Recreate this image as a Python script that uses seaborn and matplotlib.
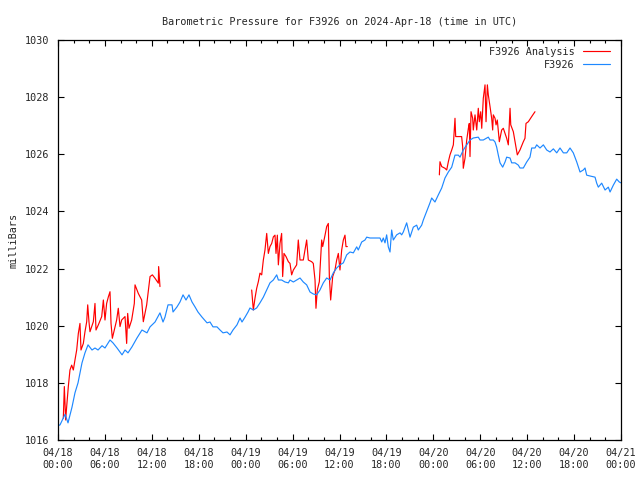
import pandas as pd
import seaborn as sns
import matplotlib.pyplot as plt
import matplotlib.dates as mdates

# Station pressure (blue), hours after 2024-04-18 00:00 UTC
obs_hours = [0.0, 0.26, 0.9, 1.28, 1.79, 2.17, 2.56, 3.07, 3.45, 3.84, 4.35, 4.73,
             5.12, 5.63, 6.01, 6.65, 7.03, 7.55, 8.19, 8.57, 8.95, 9.46, 10.1, 10.74,
             11.38, 11.77, 12.41, 13.04, 13.43, 13.68, 14.07, 14.58, 14.71, 15.22, 15.6,
             15.99, 16.37, 16.75, 17.14, 17.52, 17.9, 18.42, 19.06, 19.44, 19.82, 20.33,
             20.72, 21.1, 21.61, 22.0, 22.38, 22.89, 23.28, 23.53, 23.92, 24.3, 24.55,
             24.98, 25.4, 25.83, 26.26, 26.69, 27.11, 27.54, 27.97, 28.18, 28.6, 29.03,
             29.46, 29.67, 30.1, 30.52, 30.95, 31.37, 31.8, 32.23, 32.65, 33.08, 33.5,
             33.93, 34.36, 34.79, 35.21, 35.64, 36.06, 36.49, 36.92, 37.34, 37.77, 38.2,
             38.4, 38.84, 39.26, 39.48, 39.9, 40.76, 41.18, 41.4, 41.6, 41.82, 42.03,
             42.24, 42.46, 42.67, 42.88, 43.31, 43.74, 43.95, 44.16, 44.59, 44.8, 45.02,
             45.44, 45.87, 46.08, 46.51, 46.72, 47.57, 47.79, 48.21, 48.64, 49.07, 49.49,
             49.92, 50.35, 50.77, 51.2, 51.41, 51.83, 52.27, 52.69, 53.11, 53.75, 53.97,
             54.39, 54.82, 55.03, 55.25, 55.67, 55.89, 56.1, 56.31, 56.53, 56.87, 57.17,
             57.38, 57.81, 58.02, 58.45, 58.87, 59.08, 59.51, 59.94, 60.36, 60.58, 61.0,
             61.22, 61.64, 62.07, 62.5, 62.92, 63.35, 63.78, 64.2, 64.63, 65.06, 65.48,
             65.9, 66.34, 66.76, 67.18, 67.4, 67.61, 68.04, 68.68, 68.89, 69.1, 69.53,
             69.96, 70.38, 70.6, 71.02, 71.45, 71.78, 72.0]
obs_mb = [1016.5, 1016.53, 1016.9, 1016.6, 1017.15, 1017.65, 1018.0, 1018.7, 1019.05,
          1019.33, 1019.15, 1019.22, 1019.15, 1019.3, 1019.22, 1019.5, 1019.4, 1019.22,
          1018.98, 1019.15, 1019.05, 1019.26, 1019.57, 1019.85, 1019.75, 1019.96, 1020.13,
          1020.45, 1020.13, 1020.3, 1020.73, 1020.73, 1020.48, 1020.66, 1020.83, 1021.08,
          1020.9, 1021.08, 1020.83, 1020.66, 1020.48, 1020.3, 1020.1, 1020.13, 1019.96,
          1019.96, 1019.85, 1019.75, 1019.78, 1019.68, 1019.85, 1020.03, 1020.27, 1020.13,
          1020.3, 1020.48, 1020.62, 1020.55, 1020.62, 1020.8, 1021.0, 1021.25, 1021.5,
          1021.6, 1021.78, 1021.6, 1021.6, 1021.53, 1021.5, 1021.6, 1021.53, 1021.6,
          1021.67, 1021.53, 1021.43, 1021.18, 1021.11, 1021.08, 1021.25, 1021.5, 1021.67,
          1021.6, 1021.85, 1022.02, 1022.13, 1022.2, 1022.48, 1022.58, 1022.55, 1022.76,
          1022.65, 1022.93, 1023.0, 1023.1, 1023.07, 1023.07, 1023.07, 1022.93, 1023.07,
          1022.9, 1023.18, 1022.76, 1022.58, 1023.35, 1023.0, 1023.18, 1023.25, 1023.18,
          1023.28, 1023.6, 1023.35, 1023.1, 1023.45, 1023.52, 1023.35, 1023.52, 1023.7,
          1024.3, 1024.47, 1024.33, 1024.58, 1024.82, 1025.17, 1025.38, 1025.55, 1025.97,
          1025.97, 1025.9, 1026.15, 1026.33, 1026.5, 1026.57, 1026.6, 1026.5, 1026.5,
          1026.57, 1026.6, 1026.5, 1026.5, 1026.43, 1026.25, 1025.97, 1025.7, 1025.55,
          1025.73, 1025.9, 1025.87, 1025.7, 1025.7, 1025.62, 1025.52, 1025.52, 1025.73,
          1025.9, 1026.22, 1026.22, 1026.33, 1026.22, 1026.33, 1026.15, 1026.08, 1026.19,
          1026.05, 1026.22, 1026.05, 1026.05, 1026.22, 1026.05, 1025.73, 1025.38, 1025.45,
          1025.52, 1025.27, 1025.24, 1025.2, 1024.99, 1024.85, 1024.99, 1024.75, 1024.85,
          1024.68, 1024.92, 1025.13, 1025.03, 1025.0]

# Analysis pressure (red), three separate runs
ana1_hours = [0.68, 0.81, 0.98, 1.11, 1.32, 1.53, 1.75, 1.96, 2.17, 2.39, 2.6, 2.81, 2.94,
              3.24, 3.45, 3.67, 3.8, 3.96, 4.09, 4.31, 4.52, 4.73, 4.86, 5.16, 5.59, 5.8,
              6.01, 6.22, 6.44, 6.65, 6.78, 6.95, 7.2, 7.5, 7.71, 7.93, 8.14, 8.57, 8.78,
              8.91, 9.08, 9.42, 9.76, 9.85, 10.27, 10.7, 10.91, 11.34, 11.77, 12.07, 12.41,
              12.83, 12.87, 13.04]
ana1_mb = [1016.76, 1017.87, 1016.7, 1017.17, 1017.87, 1018.45, 1018.62, 1018.45, 1018.8,
           1019.15, 1019.73, 1020.08, 1019.15, 1019.38, 1019.79, 1020.14, 1020.73, 1020.14,
           1019.79, 1019.97, 1020.14, 1020.78, 1019.85, 1020.03, 1020.32, 1020.9, 1020.2,
           1020.78, 1021.01, 1021.19, 1020.08, 1019.56, 1019.85, 1020.2, 1020.61, 1019.97,
           1020.2, 1020.32, 1019.38, 1020.43, 1019.91, 1020.2, 1020.78, 1021.43, 1021.13,
           1020.9, 1020.14, 1020.73, 1021.72, 1021.78, 1021.66, 1021.49, 1022.07, 1021.37]
ana2_hours = [24.77, 24.98, 25.19, 25.41, 25.62, 25.83, 26.05, 26.26, 26.47, 26.69, 26.9,
              27.11, 27.33, 27.54, 27.75, 27.88, 28.05, 28.18, 28.39, 28.6, 28.73, 28.9,
              29.16, 29.46, 29.67, 29.88, 30.1, 30.52, 30.73, 30.95, 31.37, 31.8, 32.01,
              32.44, 32.65, 32.87, 32.99, 33.16, 33.42, 33.72, 33.85, 34.15, 34.36, 34.57,
              34.7, 34.87, 35.13, 35.42, 35.64, 35.85, 36.06, 36.28, 36.49, 36.7, 36.83, 37.0]
ana2_mb = [1021.25, 1020.55, 1020.96, 1021.31, 1021.54, 1021.84, 1021.78, 1022.3, 1022.65,
           1023.23, 1022.53, 1022.77, 1022.88, 1023.11, 1023.17, 1022.53, 1023.17, 1022.13,
           1022.88, 1023.23, 1021.72, 1022.53, 1022.42, 1022.24, 1022.18, 1021.78, 1021.95,
           1022.13, 1023.0, 1022.3, 1022.3, 1023.0, 1022.3, 1022.24, 1022.18, 1021.6,
           1020.61, 1021.25, 1021.54, 1023.0, 1022.77, 1023.17, 1023.47, 1023.58, 1021.72,
           1020.9, 1021.72, 1021.95, 1022.3, 1022.53, 1021.95, 1022.65, 1023.0, 1023.17,
           1022.77, 1022.77]
ana3_hours = [48.77, 48.85, 49.07, 49.49, 49.71, 49.92, 50.13, 50.35, 50.56, 50.77, 50.86,
              51.62, 51.75, 51.83, 52.05, 52.27, 52.48, 52.6, 52.69, 52.82, 53.03, 53.11,
              53.33, 53.55, 53.75, 53.88, 54.06, 54.19, 54.39, 54.61, 54.74, 54.91, 55.03,
              55.25, 55.46, 55.59, 55.67, 55.89, 56.02, 56.18, 56.44, 56.74, 56.95, 57.17,
              57.38, 57.59, 57.81, 57.9, 58.23, 58.45, 58.74, 59.08, 59.51, 59.72, 59.85,
              60.15, 60.58, 61.0]
ana3_mb = [1025.28, 1025.74, 1025.57, 1025.51, 1025.45, 1025.74, 1025.98, 1026.15, 1026.33,
           1027.26, 1026.62, 1026.62, 1026.27, 1025.51, 1025.86, 1026.5, 1026.91, 1027.08,
           1025.92, 1027.49, 1027.26, 1026.85, 1027.38, 1026.85, 1027.61, 1027.14, 1027.49,
           1026.91, 1027.96, 1028.43, 1027.14, 1028.43, 1028.08, 1027.67, 1027.26, 1026.85,
           1027.38, 1027.26, 1027.03, 1027.2, 1026.44, 1026.85, 1026.91, 1026.73, 1026.56,
           1026.33, 1027.61, 1027.03, 1026.79, 1026.44, 1025.98, 1026.15, 1026.44, 1026.56,
           1027.08, 1027.14, 1027.32, 1027.49]

start = pd.Timestamp("2024-04-18 00:00")


def to_frame(hours, mb):
    return pd.DataFrame({"time": start + pd.to_timedelta(hours, unit="h"), "mb": mb})


sns.set_style("ticks")
plt.rcParams['font.family'] = ['DejaVu Sans Mono']
fs = 7.3

fig = plt.figure(figsize=(6.4, 4.8), dpi=100)
ax = fig.add_axes([58 / 640, 40 / 480, 563 / 640, 400 / 480])

# red analysis runs, drawn one by one so the gaps stay open
for i, (h, v) in enumerate([(ana1_hours, ana1_mb), (ana2_hours, ana2_mb),
                            (ana3_hours, ana3_mb)]):
    sns.lineplot(data=to_frame(h, v), x="time", y="mb", ax=ax, color="#ff0000",
                 linewidth=0.85, label="F3926 Analysis" if i == 0 else None,
                 legend=False)

sns.lineplot(data=to_frame(obs_hours, obs_mb), x="time", y="mb", ax=ax,
             color="#1e88ff", linewidth=0.85, label="F3926", legend=False)

ax.set_xlim(start, start + pd.Timedelta(hours=72))
ax.set_ylim(1016, 1030)
ax.set_yticks(range(1016, 1031, 2))
ax.xaxis.set_major_locator(mdates.HourLocator(byhour=[0, 6, 12, 18]))
ax.xaxis.set_minor_locator(mdates.HourLocator(interval=2))
ax.xaxis.set_major_formatter(mdates.DateFormatter("%m/%d\n%H:%M"))

ax.tick_params(which="both", direction="in", top=True, right=True,
               labelsize=fs, color="black", width=0.8)
ax.tick_params(which="major", length=4.5, pad=6)
ax.tick_params(which="minor", length=2.5)
for s in ax.spines.values():
    s.set_color("black")
    s.set_linewidth(0.9)

ax.set_xlabel("")
ax.set_ylabel("milliBars", fontsize=fs, labelpad=5)
ax.set_title("Barometric Pressure for F3926 on 2024-Apr-18 (time in UTC)",
             fontsize=fs, pad=11)

handles, labels = ax.get_legend_handles_labels()
ax.legend(handles, labels, loc="upper right", bbox_to_anchor=(0.9947, 1.004),
          frameon=False, markerfirst=False, fontsize=fs, handlelength=2.7,
          handletextpad=0.8, labelspacing=0.3, borderaxespad=0.4)

fig.savefig("out.png", dpi=100)
